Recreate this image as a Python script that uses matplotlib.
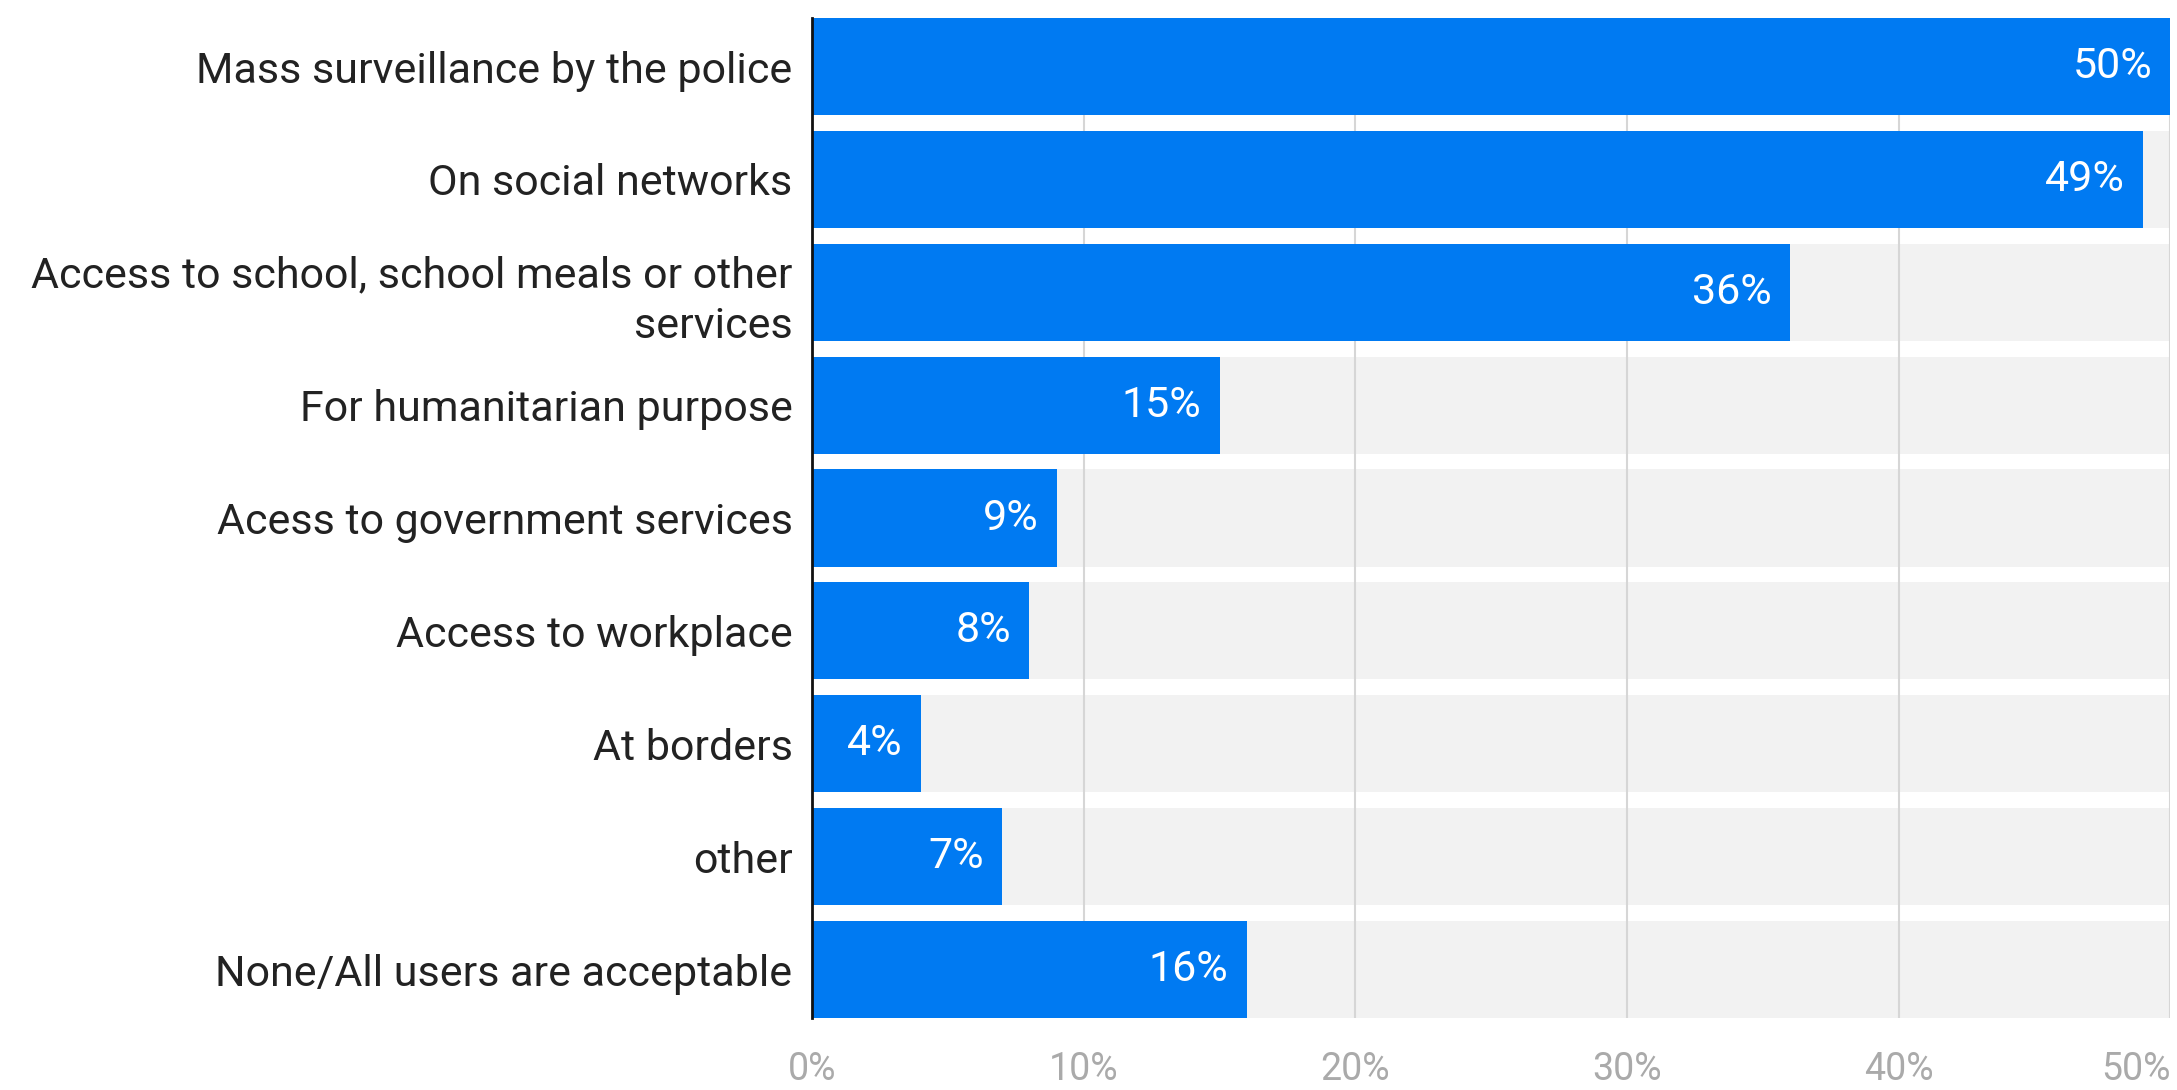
import matplotlib.pyplot as plt
import numpy as np

plt.rcParams['font.family'] = ['Roboto', 'DejaVu Sans']

CATEGORIES = [
  'Mass surveillance by the police',
  'On social networks',
  'Access to school, school meals or other\nservices',
  'For humanitarian purpose',
  'Acess to government services',
  'Access to workplace',
  'At borders',
  'other',
  'None/All users are acceptable',
]
VALUES = [50, 49, 36, 15, 9, 8, 4, 7, 16]
XTICKS = [0, 10, 20, 30, 40, 50]
XMAX = 50

BAR_COLOR = '#007AF2'
BAND_COLOR = '#F2F2F2'
GRID_COLOR = '#D6D6D6'
BAR_HEIGHT = 0.86


def graph(filename):
  fig = plt.figure(figsize=(21.77, 10.90), dpi=100)
  ax = fig.add_axes([0.373, 0.066, 0.624, 0.9175])

  pos = np.arange(len(CATEGORIES))
  ax.barh(pos, [XMAX] * len(pos), height=BAR_HEIGHT, color=BAND_COLOR, zorder=1)
  for tick in XTICKS[1:]:
    ax.axvline(tick, color=GRID_COLOR, linewidth=1.5, zorder=2)
  bars = ax.barh(pos, VALUES, height=BAR_HEIGHT, color=BAR_COLOR, zorder=3)

  for rect, val in zip(bars, VALUES):
    ax.annotate(f'{val}%', (rect.get_width(), rect.get_y() + rect.get_height() / 2),
                xytext=(-13, 0), textcoords='offset points', ha='right', va='center',
                color='white', fontsize=31, zorder=4)

  ax.set_xlim(0, XMAX)
  ax.set_ylim(len(pos) - 1 + BAR_HEIGHT / 2, -BAR_HEIGHT / 2)
  ax.set_yticks(pos)
  ax.set_yticklabels(CATEGORIES, fontsize=31, color='#222222', linespacing=1.3)
  ax.set_xticks(XTICKS)
  ax.set_xticklabels([f'{t}%' for t in XTICKS], fontsize=27, color='#AAAAAA')
  ax.get_xticklabels()[-1].set_ha('right')
  ax.tick_params(axis='y', length=0, pad=14)
  ax.tick_params(axis='x', length=0, pad=24)

  for side in ('top', 'right', 'bottom'):
    ax.spines[side].set_visible(False)
  ax.spines['left'].set_color('#111111')
  ax.spines['left'].set_linewidth(2)
  ax.spines['left'].set_zorder(5)

  fig.savefig(filename, dpi=100)
  plt.close(fig)


if __name__ == '__main__':
  graph('out.png')
